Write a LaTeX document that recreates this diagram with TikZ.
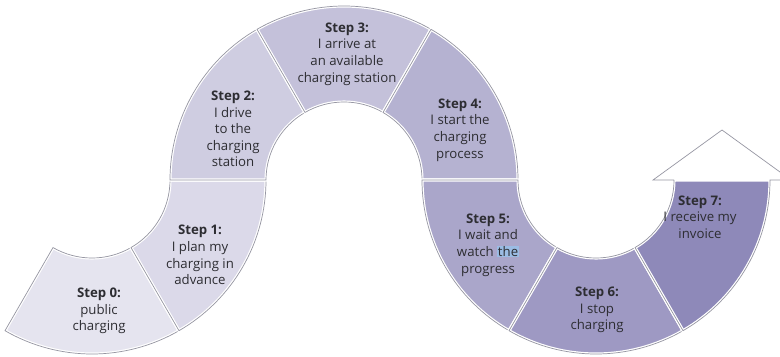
\documentclass[tikz,border=0pt]{standalone}
\usepackage{fontspec}
\setmainfont{Open Sans}
\usepackage{tikz}
\definecolor{stepedge}{RGB}{150,150,162}
\definecolor{stepink}{RGB}{45,45,50}
\definecolor{steplight}{RGB}{229,228,239}
\definecolor{stepdark}{RGB}{142,137,185}
\definecolor{marked}{RGB}{155,188,228}
\colorlet{tone0}{steplight}
\colorlet{tone1}{stepdark!12!steplight}
\colorlet{tone2}{stepdark!25!steplight}
\colorlet{tone3}{stepdark!38!steplight}
\colorlet{tone4}{stepdark!55!steplight}
\colorlet{tone5}{stepdark!68!steplight}
\colorlet{tone6}{stepdark!82!steplight}
\colorlet{tone7}{stepdark}
\tikzset{
  segfill/.style={fill=#1, postaction={draw=white, line width=2.2pt}},
  seg/.style={segfill=#1, postaction={draw=stepedge, line width=0.5pt}},
  steptext/.style={align=center, text=stepink, font=\fontsize{9.4}{11.8}\selectfont},
  arrowline/.style={draw=stepedge, line width=0.5pt}
}
\newcommand{\Rout}{174}
\newcommand{\Rin}{78}
\newcommand{\ringpart}[4]{\path[#1] ([shift={(#3:\Rout)}]#2) arc[start angle=#3, end angle=#4, radius=\Rout] -- ([shift={(#4:\Rin)}]#2) arc[start angle=#4, end angle=#3, radius=\Rin] -- cycle;}

\begin{document}
\begin{tikzpicture}[x=0.025cm, y=0.025cm]
\useasboundingbox (0,0) rectangle (780,356);
\clip (0,0) rectangle (780,356);
\coordinate (cL) at (92,176);
\coordinate (cM) at (344,176);
\coordinate (cR) at (596,176);

\ringpart{seg=tone0}{cL}{240}{300}
\ringpart{seg=tone1}{cL}{300}{360}
\ringpart{seg=tone2}{cM}{180}{120}
\ringpart{seg=tone3}{cM}{120}{60}
\ringpart{seg=tone4}{cM}{60}{0}
\ringpart{seg=tone5}{cR}{180}{240}
\ringpart{seg=tone6}{cR}{240}{300}
\ringpart{segfill=tone7}{cR}{300}{360}
\draw[arrowline] ([shift={(0:\Rin)}]cR) -- ([shift={(57,0)}]cR) -- ([shift={(126,50)}]cR) -- ([shift={(195,0)}]cR) -- ([shift={(0:\Rout)}]cR) arc[start angle=0, end angle=-60, radius=\Rout] -- ([shift={(300:\Rin)}]cR) arc[start angle=300, end angle=360, radius=\Rin];

\node (s0) [steptext] at (99,45) {\textbf{Step 0:}\\public\\charging};
\node (s1) [steptext] at (200,101) {\textbf{Step 1:}\\I plan my\\charging in\\advance};
\node (s2) [steptext] at (233,227) {\textbf{Step 2:}\\I drive\\to the\\charging\\station};
\node (s3) [steptext] at (347,302) {\textbf{Step 3:}\\I arrive at\\an available\\charging station};
\node (s4) [steptext] at (460,226) {\textbf{Step 4:}\\I start the\\charging\\process};
\node (s5) [steptext] at (488,111) {\textbf{Step 5:}\\I wait and\\watch {\setlength{\fboxsep}{0.6pt}\colorbox{marked}{the}}\\progress};
\node (s6) [steptext] at (597,46) {\textbf{Step 6:}\\I stop\\charging};
\node (s7) [steptext] at (700,139) {\textbf{Step 7:}\\I receive my\\invoice};
\end{tikzpicture}
\end{document}
